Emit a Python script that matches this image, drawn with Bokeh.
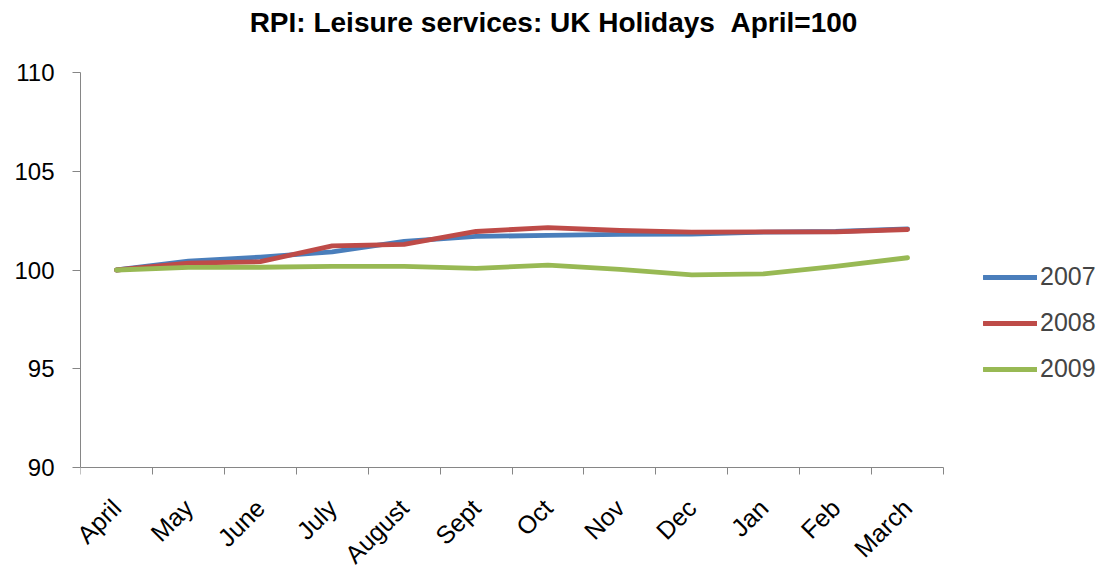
import math
from bokeh.plotting import figure
from bokeh.models import FixedTicker, Legend, LegendItem, Range1d, Label
from bokeh.embed import file_html
from bokeh.resources import INLINE

months = ["April", "May", "June", "July", "August", "Sept", "Oct", "Nov", "Dec", "Jan", "Feb", "March"]
s2007 = [100.0, 100.45, 100.65, 100.92, 101.45, 101.7, 101.75, 101.8, 101.82, 101.92, 101.95, 102.08]
s2008 = [100.0, 100.35, 100.42, 101.22, 101.3, 101.95, 102.15, 102.0, 101.92, 101.93, 101.93, 102.05]
s2009 = [100.0, 100.13, 100.14, 100.18, 100.18, 100.08, 100.25, 100.03, 99.75, 99.8, 100.18, 100.62]
series_names = ["2007", "2008", "2009"]
colors = ["#4A7EBB", "#BE4B48", "#98B954"]
y_ticks = [90, 95, 100, 105, 110]
title_text = "RPI: Leisure services: UK Holidays \u00a0April=100"

FONT = "Liberation Sans"

# layout (pixels)
W, H = 1100, 568
LEFT = 80
PLOT_W, PLOT_H, PLOT_TOP = 863, 395, 72
PLOT_BOTTOM = PLOT_TOP + PLOT_H
frame_w = W - LEFT
frame_h = H
n = len(months)
x_end = n * frame_w / PLOT_W
y0, y1 = y_ticks[0], y_ticks[-1]
px_per_unit = PLOT_H / (y1 - y0)
y_start = y0 - (H - PLOT_BOTTOM) / px_per_unit
y_end = y1 + PLOT_TOP / px_per_unit

p = figure(width=W, height=H, output_backend="svg", toolbar_location=None,
           x_range=Range1d(0, x_end), y_range=Range1d(y_start, y_end),
           min_border_left=LEFT, min_border_right=0, min_border_top=0, min_border_bottom=0)
p.outline_line_color = None
p.xgrid.visible = False
p.ygrid.visible = False

xs = [i + 0.5 for i in range(n)]
renderers = []
for name, ys, c in zip(series_names, [s2007, s2008, s2009], colors):
    r = p.line(xs, ys, line_color=c, line_width=4.8, line_cap="round", line_join="round")
    renderers.append((name, r))

# x axis (drawn at y = 90 inside the frame)
p.xaxis.fixed_location = y0
p.xaxis.bounds = (0, n)
p.xaxis.ticker = FixedTicker(ticks=xs, minor_ticks=list(range(n + 1)))
p.xaxis.major_label_overrides = {x: m for x, m in zip(xs, months)}
p.xaxis.major_tick_out = 0
p.xaxis.major_tick_in = 0
p.xaxis.minor_tick_out = 7
p.xaxis.minor_tick_in = 0
p.xaxis.major_label_orientation = math.pi / 4
p.xaxis.major_label_standoff = 29
p.xaxis.major_label_text_font = FONT
p.xaxis.major_label_text_font_size = "25px"
p.xaxis.major_label_text_color = "black"
p.xaxis.axis_line_color = "#868686"
p.xaxis.minor_tick_line_color = "#868686"

# y axis
p.yaxis.bounds = (y0, y1)
p.yaxis.ticker = FixedTicker(ticks=y_ticks, minor_ticks=[])
p.yaxis.major_tick_out = 8
p.yaxis.major_tick_in = 0
p.yaxis.minor_tick_line_color = None
p.yaxis.major_label_standoff = 18
p.yaxis.major_label_text_font = FONT
p.yaxis.major_label_text_font_size = "24px"
p.yaxis.major_label_text_color = "black"
p.yaxis.axis_line_color = "#868686"
p.yaxis.major_tick_line_color = "#868686"

title = Label(x=553 - LEFT, y=frame_h - 22, x_units="screen", y_units="screen",
              text=title_text, text_font=FONT, text_font_size="28px", text_font_style="bold",
              text_align="center", text_baseline="middle", text_color="black")
p.add_layout(title)

legend = Legend(items=[LegendItem(label=nm, renderers=[r]) for nm, r in renderers],
                location=(903, 84 + (H - PLOT_BOTTOM)), padding=0, margin=0, spacing=17,
                glyph_width=54, glyph_height=20, label_height=20, label_standoff=3,
                label_text_font=FONT, label_text_font_size="25px",
                border_line_color=None, background_fill_alpha=0)
p.add_layout(legend, "center")

open("out.html", "w").write(file_html(p, INLINE))
